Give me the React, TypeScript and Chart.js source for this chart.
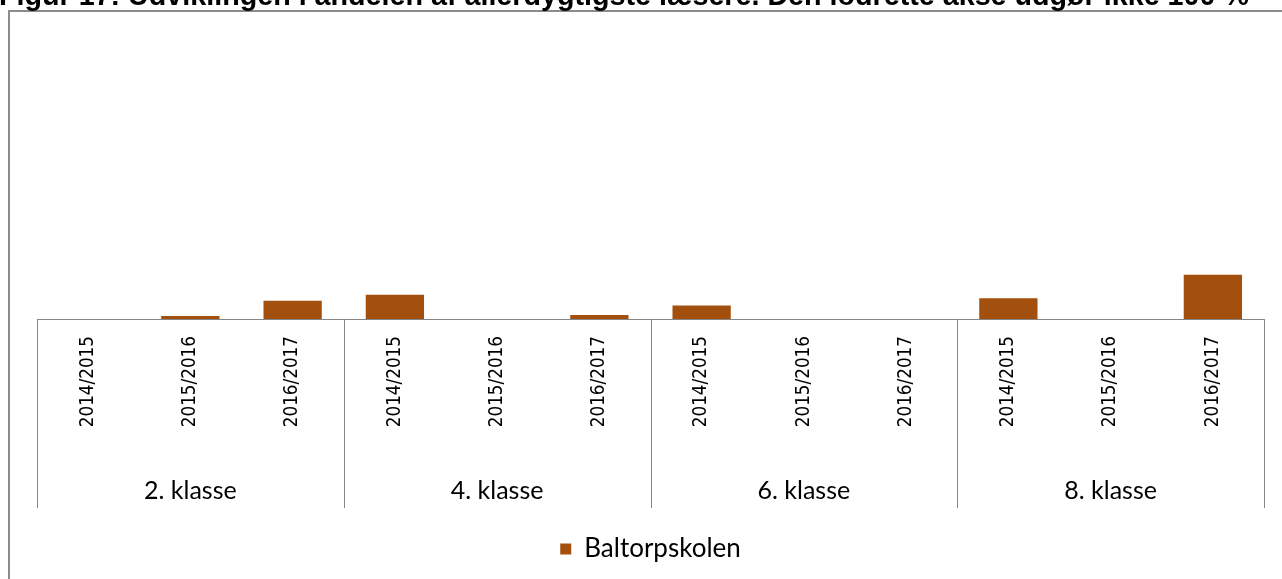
import React, { useEffect, useRef } from "react";
import { Chart, registerables } from "chart.js";
Chart.register(...registerables);

const TITLE =
  "Figur 17: Udviklingen i andelen af allerdygtigste læsere. Den lodrette akse udgør ikke 100 %";
const years = ["2014/2015", "2015/2016", "2016/2017"];
const groups = ["2. klasse", "4. klasse", "6. klasse", "8. klasse"];
const seriesName = "Baltorpskolen";
// andel (%) per klassetrin, skoleår 2014/2015, 2015/2016, 2016/2017
const klasse2 = [0, 1.0, 6.1];
const klasse4 = [8.1, 0, 1.3];
const klasse6 = [4.5, 0, 0];
const klasse8 = [6.9, 0, 14.8];
const yMax = 100;

const W = 1282;
const H = 579;

export default function App() {
  const ref = useRef<HTMLCanvasElement>(null);

  useEffect(() => {
    const canvas = ref.current!;
    const labels = groups.flatMap(() => years);
    const values = [...klasse2, ...klasse4, ...klasse6, ...klasse8];

    const groupPlugin = {
      id: "groupAxis",
      afterDraw(chart: any) {
        const { ctx, chartArea, scales } = chart;
        const x = scales.x;
        const step = (chartArea.right - chartArea.left) / labels.length;
        const yTop = chartArea.bottom;
        const yBot = chartArea.bottom + 189;
        ctx.save();
        ctx.strokeStyle = "#868686";
        ctx.lineWidth = 1;
        for (let g = 0; g <= groups.length; g++) {
          const px = Math.round(x.getPixelForValue(g * years.length) - step / 2) + 0.5;
          ctx.beginPath();
          ctx.moveTo(px, yTop);
          ctx.lineTo(px, yBot);
          ctx.stroke();
        }
        ctx.fillStyle = "#000";
        ctx.font = "25px Lato";
        ctx.textAlign = "center";
        ctx.textBaseline = "middle";
        groups.forEach((g, i) => {
          const cx = x.getPixelForValue(i * years.length + 1);
          ctx.fillText(g, cx, 491);
        });
        ctx.restore();
      },
    };

    const chart = new Chart(canvas, {
      type: "bar",
      data: {
        labels,
        datasets: [
          {
            label: seriesName,
            data: values,
            backgroundColor: "#A3500F",
            borderWidth: 0,
            barPercentage: 0.57,
            categoryPercentage: 1,
          },
        ],
      },
      options: {
        responsive: false,
        animation: false,
        devicePixelRatio: 1,
        layout: { padding: { left: 37, right: 18, top: 20, bottom: 7 } },
        scales: {
          y: { display: false, min: 0, max: yMax },
          x: {
            grid: { display: false, drawTicks: false },
            border: { display: true, color: "#868686", width: 1 },
            ticks: {
              minRotation: 90,
              maxRotation: 90,
              autoSkip: false,
              padding: 17,
              color: "#000",
              font: { family: "'DejaVu Sans Condensed', Lato", size: 18.7 },
            },
            afterFit(scale: any) {
              scale.height = 207;
            },
          },
        },
        plugins: {
          title: { display: false },
          tooltip: { enabled: false },
          legend: {
            display: true,
            position: "bottom",
            labels: {
              boxWidth: 11,
              boxHeight: 11,
              color: "#000",
              font: { family: "Lato", size: 26 },
            },
          },
        },
      },
      plugins: [groupPlugin],
    });
    return () => chart.destroy();
  }, []);

  return (
    <div
      style={{
        position: "fixed",
        left: 0,
        top: 0,
        width: W,
        height: H,
        overflow: "hidden",
        background: "#fff",
      }}
    >
      <div
        style={{
          position: "absolute",
          left: 8,
          top: 10,
          width: W + 50,
          height: H + 50,
          borderLeft: "2px solid #8c8c8c",
          borderTop: "2px solid #8c8c8c",
        }}
      />
      <canvas
        ref={ref}
        width={W}
        height={H}
        style={{ position: "absolute", left: 0, top: 0, width: W, height: H }}
      />
      <div
        style={{
          position: "absolute",
          left: -1,
          top: -19,
          whiteSpace: "nowrap",
          font: "bold 28.7px 'Liberation Sans', Arial, sans-serif",
          lineHeight: 1,
          color: "#000",
        }}
      >
        {TITLE}
      </div>
    </div>
  );
}
